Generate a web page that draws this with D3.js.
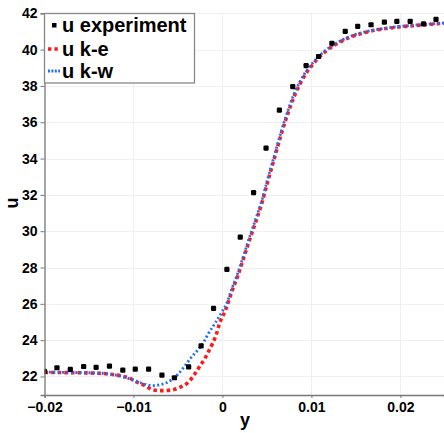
<!DOCTYPE html>
<html>
<head>
<meta charset="utf-8">
<script src="https://cdn.jsdelivr.net/npm/d3@7"></script>
<style>
  html, body { margin: 0; padding: 0; background: #fff; }
  svg { display: block; }
  text { font-family: "Liberation Sans", Arial, sans-serif; font-weight: bold; fill: #000; }
</style>
</head>
<body>
<svg id="chart" width="444" height="433"></svg>
<script>
// Measured velocity profile u(y)
const expY = [-0.0200, -0.0186, -0.0171, -0.0156, -0.0142, -0.0127, -0.0112, -0.0098, -0.0083,
  -0.0068, -0.0054, -0.0038, -0.0024, -0.0010, 0.0005, 0.0020, 0.0035, 0.0049, 0.0064,
  0.0079, 0.0094, 0.0108, 0.0123, 0.0138, 0.0152, 0.0167, 0.0182, 0.0196, 0.0211, 0.0226, 0.0240];
const expU = [22.28, 22.48, 22.39, 22.55, 22.50, 22.57, 22.35, 22.40, 22.40,
  22.07, 21.93, 22.53, 23.69, 25.75, 27.90, 29.67, 32.12, 34.58, 36.67,
  37.96, 39.12, 39.62, 40.35, 41.00, 41.28, 41.37, 41.51, 41.56, 41.55, 41.42, 41.66];

// k-epsilon simulation
const keY = [-0.0200, -0.0170, -0.0140, -0.0125, -0.0113, -0.0104, -0.0096, -0.0086, -0.0078,
  -0.0068, -0.0057, -0.0048, -0.0038, -0.0031, -0.0025, -0.0020, -0.0016, -0.0011, -0.0007,
  -0.0004, 0.0004, 0.0010, 0.0018, 0.0025, 0.0031, 0.0038, 0.0044, 0.0051, 0.0060, 0.0067,
  0.0074, 0.0080, 0.0087, 0.0094, 0.0101, 0.0108, 0.0116, 0.0125, 0.0135, 0.0145, 0.0155,
  0.0165, 0.0175, 0.0185, 0.0195, 0.0205, 0.0215, 0.0225, 0.0235, 0.0249];
const keU = [22.22, 22.21, 22.18, 22.12, 22.02, 21.90, 21.69, 21.47, 21.26,
  21.22, 21.26, 21.40, 21.70, 22.15, 22.60, 22.97, 23.34, 23.83, 24.30,
  24.81, 25.73, 26.60, 27.65, 28.70, 29.60, 30.60, 31.50, 32.75, 34.30, 35.50,
  36.55, 37.35, 38.10, 38.70, 39.15, 39.55, 39.90, 40.22, 40.50, 40.71, 40.87,
  41.00, 41.10, 41.17, 41.23, 41.28, 41.32, 41.36, 41.40, 41.45];

// k-omega simulation
const kwY = [-0.0200, -0.0170, -0.0140, -0.0125, -0.0115, -0.0105, -0.0095, -0.0086, -0.0078,
  -0.0070, -0.0063, -0.0057, -0.0050, -0.0042, -0.0035, -0.0027, -0.0021, -0.0016, -0.0008,
  0.0000, 0.0005, 0.0010, 0.0018, 0.0025, 0.0031, 0.0038, 0.0044, 0.0051, 0.0060, 0.0067,
  0.0074, 0.0080, 0.0087, 0.0094, 0.0101, 0.0108, 0.0116, 0.0125, 0.0135, 0.0145, 0.0155,
  0.0165, 0.0175, 0.0185, 0.0195, 0.0205, 0.0215, 0.0225, 0.0235, 0.0249];
const kwU = [22.24, 22.22, 22.19, 22.12, 22.03, 21.88, 21.70, 21.56, 21.50,
  21.55, 21.65, 21.83, 22.12, 22.60, 23.05, 23.50, 23.90, 24.35, 24.95,
  25.60, 26.05, 26.75, 27.80, 28.85, 29.75, 30.75, 31.65, 32.90, 34.45, 35.65,
  36.70, 37.50, 38.22, 38.80, 39.24, 39.62, 39.96, 40.27, 40.54, 40.75, 40.91,
  41.03, 41.12, 41.19, 41.25, 41.30, 41.34, 41.38, 41.42, 41.46];

const xTicks = [-0.02, -0.01, 0, 0.01, 0.02];
const yTicks = [22, 24, 26, 28, 30, 32, 34, 36, 38, 40, 42];
const legendLabels = ["u experiment", "u k-e", "u k-w"];

const svg = d3.select("#chart");
const plotLeft = 44.5, plotRight = 444, plotTop = 13.3, plotBottom = 395;

const x = d3.scaleLinear().domain([-0.02, 0.0249]).range([plotLeft, plotRight]);
const y = d3.scaleLinear().domain([20.98, 42]).range([plotBottom, plotTop]);

// grid
const grid = svg.append("g").attr("stroke", "#f0f0f0").attr("stroke-width", 1);
grid.selectAll("line.h").data(yTicks).join("line").attr("class", "h")
  .attr("x1", plotLeft).attr("x2", plotRight)
  .attr("y1", d => Math.round(y(d)) + 0.5).attr("y2", d => Math.round(y(d)) + 0.5);
grid.selectAll("line.v").data(xTicks.slice(1)).join("line").attr("class", "v")
  .attr("y1", plotTop).attr("y2", plotBottom)
  .attr("x1", d => Math.round(x(d)) + 0.5).attr("x2", d => Math.round(x(d)) + 0.5);

// clip for plotted series
svg.append("clipPath").attr("id", "plot-clip")
  .append("rect").attr("x", plotLeft).attr("y", plotTop - 8)
  .attr("width", plotRight - plotLeft).attr("height", plotBottom - plotTop + 8);

const plot = svg.append("g").attr("clip-path", "url(#plot-clip)");

const line = d3.line().x(d => x(d[0])).y(d => y(d[1])).curve(d3.curveMonotoneX);

plot.append("path")
  .datum(d3.zip(keY, keU))
  .attr("fill", "none").attr("stroke", "#ff1a1a").attr("stroke-width", 3.6)
  .attr("stroke-dasharray", "3.6,3").attr("d", line);

plot.append("path")
  .datum(d3.zip(kwY, kwU))
  .attr("fill", "none").attr("stroke", "#1f6fff").attr("stroke-width", 2.8)
  .attr("stroke-dasharray", "2,2.4").attr("d", line);

plot.selectAll("rect.exp").data(d3.zip(expY, expU)).join("rect")
  .attr("class", "exp")
  .attr("x", d => x(d[0]) - 2.6).attr("y", d => y(d[1]) - 2.6)
  .attr("width", 5.2).attr("height", 5.2).attr("rx", 1.2)
  .attr("fill", "#000");

// axes
const xAxis = d3.axisBottom(x).tickValues(xTicks).tickSize(3).tickPadding(4)
  .tickFormat(d => d === 0 ? "0" : d3.format("")(d));
const gx = svg.append("g").attr("transform", `translate(0,${plotBottom})`).call(xAxis);
gx.select(".domain").attr("stroke", "#777").attr("stroke-width", 1.3);
gx.selectAll(".tick line").attr("stroke", "#777");
gx.selectAll("text").attr("font-size", 14).attr("font-family", "Liberation Sans, Arial, sans-serif")
  .attr("font-weight", "bold").attr("fill", "#000");

const yAxis = d3.axisLeft(y).tickValues(yTicks).tickSize(4).tickPadding(3);
const gy = svg.append("g").attr("transform", `translate(${plotLeft},0)`).call(yAxis);
gy.select(".domain").attr("stroke", "#777").attr("stroke-width", 1.3);
gy.selectAll(".tick line").attr("stroke", "#777");
gy.selectAll("text").attr("font-size", 14).attr("font-family", "Liberation Sans, Arial, sans-serif")
  .attr("font-weight", "bold").attr("fill", "#000");

// axis titles
svg.append("text").attr("x", 245).attr("y", 426).attr("text-anchor", "middle")
  .attr("font-size", 18).text("y");
svg.append("text").attr("transform", "translate(18,203) rotate(-90)")
  .attr("text-anchor", "middle").attr("font-size", 18).text("u");

// legend
const lg = svg.append("g");
lg.append("rect").attr("x", 44.5).attr("y", 13.5).attr("width", 150).attr("height", 69.5)
  .attr("fill", "#fff").attr("stroke", "#888").attr("stroke-width", 1.3);
const rowY = [25, 49, 71];
lg.append("rect").attr("x", 52).attr("y", rowY[0] - 2).attr("width", 4.5).attr("height", 4.5).attr("fill", "#000");
lg.append("line").attr("x1", 48).attr("x2", 60).attr("y1", rowY[1]).attr("y2", rowY[1])
  .attr("stroke", "#ff1a1a").attr("stroke-width", 3.4).attr("stroke-dasharray", "3.4,3");
lg.append("line").attr("x1", 48).attr("x2", 60).attr("y1", rowY[2]).attr("y2", rowY[2])
  .attr("stroke", "#1f6fff").attr("stroke-width", 3).attr("stroke-dasharray", "2,1.4");
lg.selectAll("text.lab").data(legendLabels).join("text")
  .attr("class", "lab")
  .attr("x", 62).attr("y", (d, i) => rowY[i] + 7)
  .attr("font-size", 20).text(d => d);
</script>
</body>
</html>
